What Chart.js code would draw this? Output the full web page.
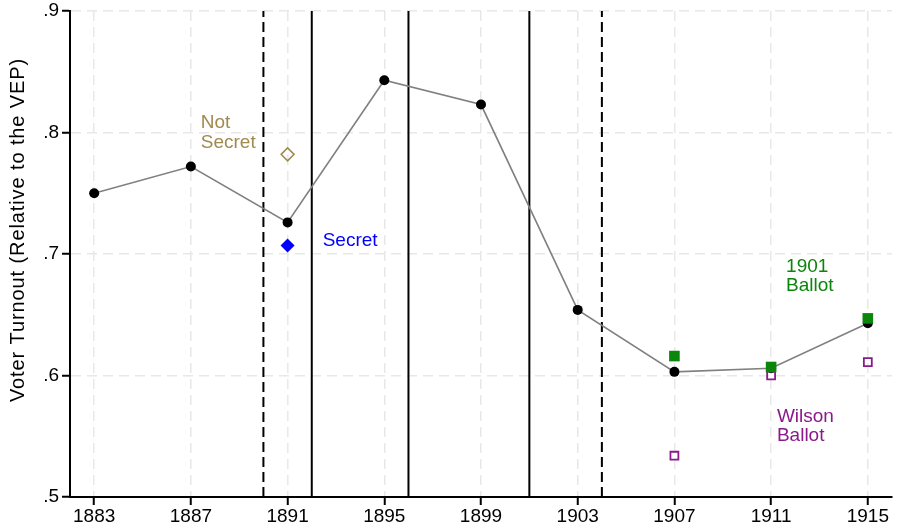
<!DOCTYPE html>
<html>
<head>
<meta charset="utf-8">
<script src="https://cdn.jsdelivr.net/npm/chart.js@4/dist/chart.umd.min.js"></script>
<style>
  html, body { margin: 0; padding: 0; background: #ffffff; }
  canvas { display: block; }
</style>
</head>
<body>
<canvas id="turnout" width="900" height="529"></canvas>
<script>
// Election years and overall voter turnout (share of the voting-eligible population)
const years   = [1883, 1887, 1891, 1895, 1899, 1903, 1907, 1911, 1915];
const turnout = [0.750, 0.772, 0.726, 0.843, 0.823, 0.654, 0.603, 0.606, 0.643];

// 1891 split by ballot type
const notSecretYears   = [1891];
const notSecretTurnout = [0.782];
const secretYears      = [1891];
const secretTurnout    = [0.707];

// 1907-1915 split by ballot law
const ballotYears  = [1907, 1911, 1915];
const ballot1901   = [0.616, 0.607, 0.647];
const wilsonBallot = [0.534, 0.600, 0.611];

// Years of the ballot reforms (reference lines)
const dashedLineYears = [1890, 1904];
const solidLineYears  = [1892, 1896, 1901];

// Axis ticks
const xTickYears  = [1883, 1887, 1891, 1895, 1899, 1903, 1907, 1911, 1915];
const yTickValues = [0.5, 0.6, 0.7, 0.8, 0.9];
const yAxisTitle  = 'Voter Turnout (Relative to the VEP)';

const FONT = '"Liberation Sans", Arial, Helvetica, sans-serif';
const COLORS = {
  line: '#808080',
  dot: '#000000',
  notSecret: '#a08a50',
  secret: '#0000ff',
  ballot1901: '#0a860a',
  wilson: '#8a1a8a',
  grid: '#e8e8e8'
};

// Text notes placed in data units (year, turnout of first baseline)
const notes = [
  { lines: ['Not', 'Secret'],     year: 1887.41, value: 0.8035, color: COLORS.notSecret },
  { lines: ['Secret'],            year: 1892.45, value: 0.7068, color: COLORS.secret },
  { lines: ['1901', 'Ballot'],    year: 1911.62, value: 0.6852, color: COLORS.ballot1901 },
  { lines: ['Wilson', 'Ballot'],  year: 1911.24, value: 0.5619, color: COLORS.wilson }
];

const pts = (xs, ys) => xs.map((x, i) => ({ x, y: ys[i] }));
const vline = yr => [{ x: yr, y: yTickValues[0] }, { x: yr, y: yTickValues[yTickValues.length - 1] }];

const datasets = [];

dashedLineYears.forEach(yr => datasets.push({
  data: vline(yr), showLine: true, borderColor: '#000', borderWidth: 2,
  borderDash: [10, 5], pointRadius: 0, order: 10
}));
solidLineYears.forEach(yr => datasets.push({
  data: vline(yr), showLine: true, borderColor: '#000', borderWidth: 2,
  pointRadius: 0, order: 10
}));

datasets.push({
  label: 'Turnout',
  data: pts(years, turnout), showLine: true, tension: 0,
  borderColor: COLORS.line, borderWidth: 1.6,
  pointRadius: 5, pointBackgroundColor: COLORS.dot, pointBorderColor: COLORS.dot,
  pointBorderWidth: 0, order: 5
});
datasets.push({
  label: 'Wilson Ballot',
  data: pts(ballotYears, wilsonBallot), showLine: false,
  pointStyle: 'rect', pointRadius: 5.6, pointBorderWidth: 1.8,
  pointBorderColor: COLORS.wilson, pointBackgroundColor: 'rgba(0,0,0,0)', order: 4
});
datasets.push({
  label: '1901 Ballot',
  data: pts(ballotYears, ballot1901), showLine: false,
  pointStyle: 'rect', pointRadius: 7.5, pointBorderWidth: 0,
  pointBorderColor: COLORS.ballot1901, pointBackgroundColor: COLORS.ballot1901, order: 3
});
datasets.push({
  label: 'Not Secret',
  data: pts(notSecretYears, notSecretTurnout), showLine: false,
  pointStyle: 'rectRot', pointRadius: 6.5, pointBorderWidth: 1.5,
  pointBorderColor: COLORS.notSecret, pointBackgroundColor: 'rgba(0,0,0,0)', order: 2
});
datasets.push({
  label: 'Secret',
  data: pts(secretYears, secretTurnout), showLine: false,
  pointStyle: 'rectRot', pointRadius: 7, pointBorderWidth: 0,
  pointBorderColor: COLORS.secret, pointBackgroundColor: COLORS.secret, order: 2
});

// Text notes next to the marker groups
const notesPlugin = {
  id: 'notes',
  afterDatasetsDraw(chart) {
    const { ctx, scales: { x, y } } = chart;
    ctx.save();
    ctx.font = '19px ' + FONT;
    ctx.textAlign = 'left';
    ctx.textBaseline = 'alphabetic';
    notes.forEach(n => {
      ctx.fillStyle = n.color;
      const px = x.getPixelForValue(n.year);
      const py = y.getPixelForValue(n.value);
      n.lines.forEach((t, i) => ctx.fillText(t, px, py + i * 19.4));
    });
    ctx.restore();
  }
};

// Rotated y-axis title
const yTitlePlugin = {
  id: 'yTitle',
  afterDraw(chart) {
    const { ctx, chartArea } = chart;
    ctx.save();
    ctx.translate(18.5, chartArea.top + 219);
    ctx.rotate(-Math.PI / 2);
    ctx.font = '20px ' + FONT;
    if ('letterSpacing' in ctx) ctx.letterSpacing = '0.9px';
    ctx.fillStyle = '#000';
    ctx.textAlign = 'center';
    ctx.textBaseline = 'middle';
    ctx.fillText(yAxisTitle, 0, 0);
    ctx.restore();
  }
};

new Chart(document.getElementById('turnout'), {
  type: 'scatter',
  data: { datasets },
  options: {
    responsive: false,
    devicePixelRatio: 1,
    animation: false,
    events: [],
    layout: { padding: { top: 11, right: 1, left: 0, bottom: 0 } },
    plugins: { legend: { display: false }, tooltip: { enabled: false } },
    scales: {
      x: {
        type: 'linear',
        min: 1882,
        max: 1916,
        afterBuildTicks: s => { s.ticks = xTickYears.map(v => ({ value: v })); },
        afterFit: s => { s.height = 32; s.paddingLeft = 0; s.paddingRight = 0; },
        ticks: {
          autoSkip: false, maxRotation: 0, padding: 2,
          color: '#000', font: { family: FONT, size: 19, lineHeight: 1 },
          callback: v => String(v)
        },
        grid: {
          color: COLORS.grid, lineWidth: 1.5,
          tickColor: '#000', tickWidth: 2, tickLength: 8, tickBorderDash: []
        },
        border: { display: true, color: '#000', width: 2, dash: [10, 6] }
      },
      y: {
        type: 'linear',
        min: 0.5,
        max: 0.9,
        afterBuildTicks: s => { s.ticks = yTickValues.map(v => ({ value: v })); },
        afterFit: s => { s.width = 70; s.paddingTop = 0; s.paddingBottom = 0; },
        ticks: {
          padding: 3, color: '#000', font: { family: FONT, size: 19, lineHeight: 1 },
          callback: v => v.toFixed(1).replace(/^0/, '')
        },
        grid: {
          color: c => (c.tick && Math.abs(c.tick.value - 0.5) < 1e-9) ? 'rgba(0,0,0,0)' : COLORS.grid,
          lineWidth: 1.5,
          tickColor: '#000', tickWidth: 2, tickLength: 8, tickBorderDash: []
        },
        border: { display: true, color: '#000', width: 2, dash: [10, 6] }
      }
    }
  },
  plugins: [notesPlugin, yTitlePlugin]
});
</script>
</body>
</html>
